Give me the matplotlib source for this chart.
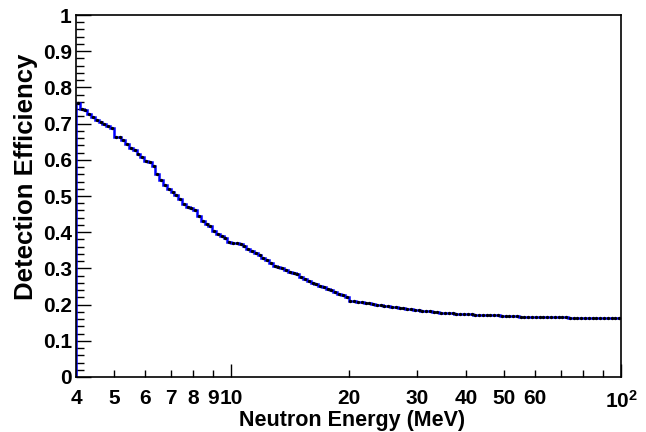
import numpy as np
import matplotlib.pyplot as plt
from matplotlib.ticker import FixedLocator, FixedFormatter, MultipleLocator

plt.rcParams['font.family'] = ['Liberation Sans', 'DejaVu Sans']
plt.rcParams['font.weight'] = 'bold'
plt.rcParams['mathtext.fontset'] = 'custom'
plt.rcParams['mathtext.rm'] = 'Liberation Sans:bold'
plt.rcParams['mathtext.bf'] = 'Liberation Sans:bold'
plt.rcParams['mathtext.default'] = 'bf'

# histogram binning (log-spaced bins, 4 - 100 MeV)
e_min, e_max = 4.0, 100.0
n_bins = 144

# detection efficiency per bin
efficiency = [
    0.757, 0.740, 0.737, 0.727, 0.719, 0.711, 0.704, 0.698, 0.693, 0.689,
    0.664, 0.662, 0.656, 0.645, 0.633, 0.627, 0.617, 0.608, 0.598, 0.594,
    0.583, 0.561, 0.543, 0.531, 0.520, 0.510, 0.502, 0.492, 0.478, 0.469,
    0.468, 0.462, 0.444, 0.432, 0.424, 0.417, 0.404, 0.396, 0.390, 0.383,
    0.374, 0.371, 0.371, 0.368, 0.362, 0.354, 0.348, 0.342, 0.337, 0.329,
    0.323, 0.314, 0.308, 0.304, 0.301, 0.296, 0.290, 0.287, 0.284, 0.277,
    0.270, 0.265, 0.261, 0.257, 0.252, 0.248, 0.244, 0.239, 0.234, 0.230,
    0.226, 0.220, 0.210, 0.209, 0.208, 0.207, 0.205, 0.204, 0.202, 0.200,
    0.199, 0.197, 0.195, 0.194, 0.192, 0.191, 0.190, 0.188, 0.187, 0.185,
    0.184, 0.183, 0.182, 0.181, 0.180, 0.179, 0.178, 0.178, 0.177, 0.176,
    0.175, 0.175, 0.174, 0.174, 0.173, 0.172, 0.172, 0.171, 0.171, 0.170,
    0.170, 0.170, 0.169, 0.169, 0.168, 0.168, 0.168, 0.167, 0.167, 0.167,
    0.167, 0.166, 0.166, 0.166, 0.166, 0.165, 0.165, 0.165, 0.165, 0.165,
    0.164, 0.164, 0.164, 0.164, 0.163, 0.163, 0.163, 0.163, 0.163, 0.163,
    0.163, 0.163, 0.163, 0.163,
]

# axis ticks
y_major = [0, 0.1, 0.2, 0.3, 0.4, 0.5, 0.6, 0.7, 0.8, 0.9, 1]
y_labels = ['0', '0.1', '0.2', '0.3', '0.4', '0.5', '0.6', '0.7', '0.8', '0.9', '1']
x_major = [10, 100]
x_major_labels = ['10', r'$10^{2}$']
x_minor = [4, 5, 6, 7, 8, 9, 20, 30, 40, 50, 60, 70, 80, 90]
x_minor_labels = ['4', '5', '6', '7', '8', '9', '20', '30', '40', '50', '60', '', '', '']

edges = np.logspace(np.log10(e_min), np.log10(e_max), n_bins + 1)
centers = np.sqrt(edges[:-1] * edges[1:])

fig = plt.figure(figsize=(6.46, 4.32), dpi=100)
ax = fig.add_axes([76 / 646, 55 / 432, 545 / 646, 362 / 432])

# histogram outline (ROOT style) with the bin contents as dots
ax.stairs(efficiency, edges, baseline=None, color='#0000ff', lw=1.8, zorder=2)
ax.vlines(edges[0], 0, efficiency[0], color='#0000ff', lw=1.8, zorder=2)
ax.plot(centers, efficiency, 'o', color='black', ms=2.4, mew=0, zorder=3)

ax.set_xscale('log')
ax.set_xlim(e_min, e_max)
ax.set_ylim(0, 1)

ax.xaxis.set_major_locator(FixedLocator(x_major))
ax.xaxis.set_major_formatter(FixedFormatter(x_major_labels))
ax.xaxis.set_minor_locator(FixedLocator(x_minor))
ax.xaxis.set_minor_formatter(FixedFormatter(x_minor_labels))
ax.yaxis.set_major_locator(FixedLocator(y_major))
ax.yaxis.set_major_formatter(FixedFormatter(y_labels))
ax.yaxis.set_minor_locator(MultipleLocator(0.02))

ax.tick_params(axis='x', which='major', direction='in', length=9.5, width=1,
               pad=9, labelsize=15)
ax.tick_params(axis='x', which='minor', direction='in', length=5, width=1,
               pad=9, labelsize=15)
ax.tick_params(axis='y', which='major', direction='in', length=11, width=1,
               pad=3, labelsize=15)
ax.tick_params(axis='y', which='minor', direction='in', length=5.5, width=1)
ax.tick_params(top=False, right=False, which='both')

for sp in ax.spines.values():
    sp.set_linewidth(1.2)
    sp.set_color('black')

ax.set_xlabel('Neutron Energy (MeV)', fontsize=15.5, fontweight='bold')
ax.set_ylabel('Detection Efficiency', fontsize=18.5, fontweight='bold')
ax.xaxis.set_label_coords(0.506, -0.092)
ax.yaxis.set_label_coords(-0.069, 0.552)

fig.savefig('out.png', dpi=100)
